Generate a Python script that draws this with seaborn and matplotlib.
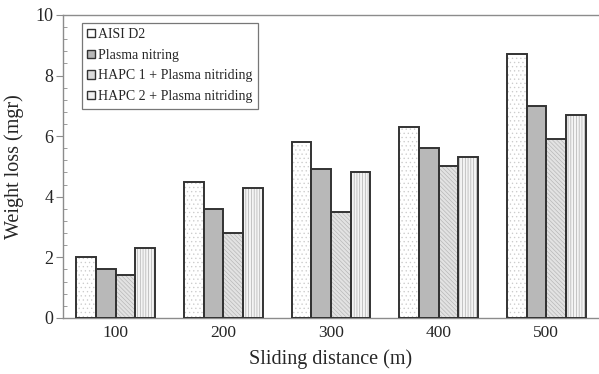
import matplotlib
matplotlib.use("Agg")
import matplotlib.pyplot as plt
from matplotlib.patches import Patch, Rectangle
from matplotlib.ticker import MultipleLocator, AutoMinorLocator
import seaborn as sns
import pandas as pd

distances = ["100", "200", "300", "400", "500"]
treatments = ["AISI D2", "Plasma nitring", "HAPC 1 + Plasma nitriding", "HAPC 2 + Plasma nitriding"]
aisi_d2 = [2.0, 4.5, 5.8, 6.3, 8.7]
plasma = [1.6, 3.6, 4.9, 5.6, 7.0]
hapc1 = [1.4, 2.8, 3.5, 5.0, 5.9]
hapc2 = [2.3, 4.3, 4.8, 5.3, 6.7]

series = [aisi_d2, plasma, hapc1, hapc2]
df = pd.DataFrame({
    "distance": [d for s in series for d in distances],
    "treatment": [t for t, s in zip(treatments, series) for _ in s],
    "loss": [v for s in series for v in s],
})

# fill colour, hatch pattern and hatch colour for each treatment
fills = ["#ffffff", "#b8b8b8", "#e2e2e2", "#f4f4f4"]
hatches = ["....", "", "\\\\\\\\\\\\\\\\", "||||||"]
hatch_cols = ["#cccccc", "#b8b8b8", "#b4b4b4", "#a8a8a8"]

sns.set_style("white")
plt.rcParams["font.family"] = ["Liberation Serif", "DejaVu Serif"]
plt.rcParams["hatch.linewidth"] = 0.45

fig = plt.figure(figsize=(5.99, 3.74), dpi=100)
ax = fig.add_axes([0.105, 0.15, 0.895, 0.81])

sns.barplot(data=df, x="distance", y="loss", hue="treatment", order=distances,
            hue_order=treatments, palette=fills, width=0.73, gap=0,
            saturation=1, legend=False, ax=ax)

# hatched fill first, then a dark outline over each bar
for i, container in enumerate(ax.containers):
    for bar in container:
        bar.set_hatch(hatches[i])
        bar.set_edgecolor(hatch_cols[i])
        bar.set_linewidth(0)
        x, y = bar.get_xy()
        ax.add_patch(Rectangle((x, y), bar.get_width(), bar.get_height(),
                               fill=False, edgecolor="#333333", linewidth=1.4,
                               zorder=3))

ax.set_xlim(-0.49, 4.49)
ax.set_ylim(0, 10)
ax.yaxis.set_major_locator(MultipleLocator(2))
ax.yaxis.set_minor_locator(AutoMinorLocator(5))

for side in ["left", "bottom", "top"]:
    ax.spines[side].set_color("#8c8c8c")
    ax.spines[side].set_linewidth(1.0)
ax.spines["right"].set_visible(False)

ax.tick_params(axis="y", which="major", direction="out", length=5, width=0.8,
               color="#8c8c8c", labelsize=13, pad=2, left=True)
ax.tick_params(axis="y", which="minor", direction="in", length=3, width=0.6,
               color="#8c8c8c", left=True)
ax.tick_params(axis="x", which="major", direction="in", length=3, width=0.8,
               color="#8c8c8c", labelsize=12.5, pad=5, bottom=True)

ax.set_xlabel("Sliding distance (m)", fontsize=14.5, labelpad=6)
ax.set_ylabel("Weight loss (mgr)", fontsize=14.5, labelpad=8)

legend_fills = ["#ffffff", "#b8b8b8", "#dcdcdc", "#f0f0f0"]
handles = [Patch(facecolor=legend_fills[i], edgecolor="#333333",
                 linewidth=1.0) for i in range(4)]
leg = ax.legend(handles, treatments, loc="upper left",
                bbox_to_anchor=(0.035, 0.975), fontsize=10, frameon=True,
                fancybox=False, edgecolor="#555555", handlelength=0.55,
                handleheight=0.55, handletextpad=0.2, labelspacing=0.55,
                borderpad=0.4, borderaxespad=0)
leg.get_frame().set_linewidth(0.9)

fig.savefig("out.png", dpi=100)
